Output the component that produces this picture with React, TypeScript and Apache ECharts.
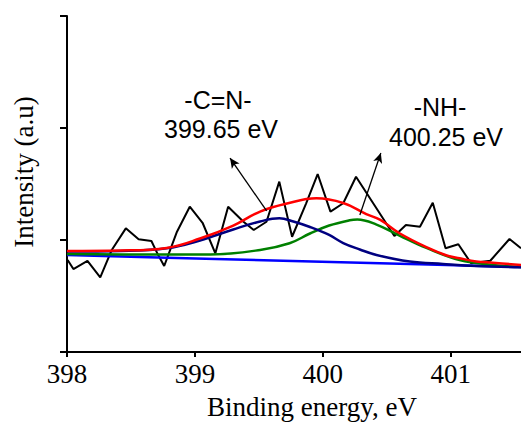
import { useEffect, useRef } from "react";
import * as echarts from "echarts";

// Axis ticks
const xTickValues = [398, 399, 400, 401];
const yTickValues = [0, 1, 2, 3];

// Raw XPS N1s spectrum (binding energy eV, intensity a.u.)
const rawSpectrum: [number, number][] = [
  [398.005, 0.821], [398.05, 0.741], [398.16, 0.813], [398.26, 0.667],
  [398.35, 0.911], [398.46, 1.104], [398.56, 1.006], [398.66, 0.991],
  [398.71, 0.872], [398.76, 0.768], [398.86, 1.074], [398.96, 1.297],
  [399.06, 1.154], [399.16, 0.881], [399.26, 1.297], [399.38, 1.163],
  [399.46, 1.089], [399.56, 1.163], [399.66, 1.521], [399.76, 1.029],
  [399.87, 1.328], [399.96, 1.589], [400.06, 1.253], [400.16, 1.328],
  [400.26, 1.565], [400.56, 1.036], [400.65, 1.134], [400.76, 1.119],
  [400.86, 1.333], [400.96, 0.926], [401.06, 0.962], [401.16, 0.792],
  [401.31, 0.815], [401.46, 1.009], [401.55, 0.926],
];

// Fitted envelope (red)
const envelopeFit: [number, number][] = [
  [398.0, 0.902], [398.42, 0.906], [398.78, 0.929], [399.04, 1.013],
  [399.3, 1.129], [399.51, 1.254], [399.72, 1.326], [399.95, 1.372],
  [400.16, 1.33], [400.34, 1.232], [400.45, 1.179], [400.6, 1.06],
  [400.81, 0.936], [400.97, 0.862], [401.07, 0.837], [401.2, 0.808],
  [401.33, 0.797], [401.55, 0.777],
];

// -C=N- component, 399.65 eV (navy)
const cnComponent: [number, number][] = [
  [398.0, 0.897], [398.42, 0.902], [398.78, 0.926], [399.04, 0.996],
  [399.3, 1.094], [399.51, 1.165], [399.66, 1.194], [399.77, 1.165],
  [399.9, 1.116], [400.05, 1.045], [400.16, 0.973], [400.29, 0.915],
  [400.42, 0.866], [400.68, 0.808], [400.94, 0.786], [401.2, 0.768],
  [401.55, 0.756],
];

// -NH- component, 400.25 eV (green)
const nhComponent: [number, number][] = [
  [398.0, 0.875], [398.65, 0.871], [399.12, 0.871], [399.51, 0.911],
  [399.74, 0.971], [399.9, 1.058], [400.05, 1.129], [400.21, 1.176],
  [400.27, 1.183], [400.42, 1.138], [400.6, 1.04], [400.81, 0.929],
  [401.07, 0.821], [401.33, 0.777], [401.55, 0.759],
];

// Background (blue)
const background: [number, number][] = [
  [398.0, 0.866], [399.16, 0.83], [400.37, 0.795], [401.55, 0.759],
];

// Annotation arrows [from, to]
const cnArrow: [number, number][] = [[399.561, 1.259], [399.275, 1.732]];
const nhArrow: [number, number][] = [[400.29, 1.223], [400.454, 1.777]];

const cnLabels = ["-C=N-", "399.65 eV"];
const nhLabels = ["-NH-", "400.25 eV"];

export default function App() {
  const ref = useRef<HTMLDivElement>(null);

  useEffect(() => {
    if (!ref.current) return;
    const chart = echarts.init(ref.current, null, { renderer: "svg" });
    const sans = '"Liberation Sans", Arial, sans-serif';
    const serif = '"Liberation Serif", "Times New Roman", serif';

    const curve = (data: [number, number][], color: string, width: number, smooth: boolean) => ({
      type: "line",
      data,
      smooth: smooth ? 0.4 : false,
      showSymbol: false,
      symbol: "none",
      lineStyle: { color, width },
      z: 2,
    });

    chart.setOption({
      animation: false,
      backgroundColor: "#ffffff",
      textStyle: { fontFamily: "Liberation Serif" },
      grid: { left: 67, right: 0, top: 16, bottom: 71, containLabel: false },
      xAxis: {
        type: "value",
        min: 398,
        max: 401.55,
        interval: 1,
        axisLine: { show: true, lineStyle: { color: "#000", width: 2 } },
        axisTick: {
          show: true,
          inside: false,
          length: 5,
          lineStyle: { color: "#000", width: 2 },
          customValues: xTickValues,
        },
        axisLabel: {
          showMaxLabel: false,
          formatter: (v: number) => (xTickValues.includes(v) ? `{t|${v}}` : ""),
          rich: {
            t: { fontFamily: "Liberation Serif", fontSize: 27, color: "#000" },
          },
          color: "#000",
          fontFamily: "Liberation Serif",
          fontSize: 27,
          margin: 8,
        },
        splitLine: { show: false },
      },
      yAxis: {
        type: "value",
        min: 0,
        max: 3,
        interval: 1,
        axisLine: { show: true, lineStyle: { color: "#000", width: 2 } },
        axisTick: {
          show: true,
          inside: false,
          length: 7,
          lineStyle: { color: "#000", width: 2 },
          customValues: yTickValues,
        },
        axisLabel: { show: false },
        splitLine: { show: false },
      },
      series: [
        {
          ...curve(rawSpectrum, "#000000", 2, false),
          markLine: {
            silent: true,
            symbol: ["none", "arrow"],
            symbolSize: [7, 10],
            label: { show: false },
            lineStyle: { color: "#000", width: 1.3, type: "solid" },
            data: [
              [{ coord: cnArrow[0] }, { coord: cnArrow[1] }],
              [{ coord: nhArrow[0] }, { coord: nhArrow[1] }],
            ],
          },
        },
        curve(background, "#0000ff", 2.5, true),
        curve(nhComponent, "#008000", 2.5, true),
        curve(cnComponent, "#000080", 2.5, true),
        curve(envelopeFit, "#ff0000", 2.5, true),
      ],
      graphic: [
        { type: "text", x: 218, y: 100, style: { text: cnLabels[0], font: `25px ${sans}`, fill: "#000", align: "center", verticalAlign: "middle" } },
        { type: "text", x: 221, y: 129, style: { text: cnLabels[1], font: `25px ${sans}`, fill: "#000", align: "center", verticalAlign: "middle" } },
        { type: "text", x: 440, y: 107, style: { text: nhLabels[0], font: `25px ${sans}`, fill: "#000", align: "center", verticalAlign: "middle" } },
        { type: "text", x: 446, y: 137, style: { text: nhLabels[1], font: `25px ${sans}`, fill: "#000", align: "center", verticalAlign: "middle" } },
        { type: "text", x: 312, y: 407, style: { text: "Binding energy, eV", font: `27px ${serif}`, fill: "#000", align: "center", verticalAlign: "middle" } },
        { type: "text", x: 24, y: 172, rotation: Math.PI / 2, style: { text: "Intensity (a.u)", font: `27px ${serif}`, fill: "#000", align: "center", verticalAlign: "middle" } },
      ],
    });
    return () => chart.dispose();
  }, []);

  return <div ref={ref} style={{ position: "absolute", left: 0, top: 0, width: 521, height: 423 }} />;
}
